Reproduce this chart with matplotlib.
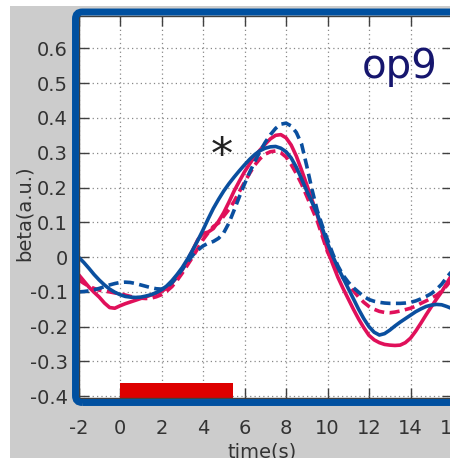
import numpy as np
import matplotlib.pyplot as plt
from matplotlib.patches import Rectangle, FancyBboxPatch

plt.rcParams['axes.unicode_minus'] = False

# time axis (s), values read every 0.25 s
t = np.arange(-2, 16.01, 0.25)

blue_solid = [0.000, -0.015, -0.032, -0.050, -0.066, -0.080, -0.092, -0.101,
              -0.108, -0.113, -0.115, -0.116, -0.115, -0.112, -0.108, -0.102,
              -0.094, -0.083, -0.068, -0.050, -0.030, -0.006, 0.020, 0.048,
              0.078, 0.110, 0.140, 0.166, 0.190, 0.211, 0.230, 0.248,
              0.265, 0.281, 0.295, 0.306, 0.313, 0.317, 0.318, 0.313,
              0.303, 0.285, 0.258, 0.225, 0.190, 0.158, 0.125, 0.083,
              0.040, 0.003, -0.030, -0.060, -0.090, -0.120, -0.150, -0.177,
              -0.200, -0.216, -0.224, -0.220, -0.210, -0.198, -0.187, -0.177,
              -0.167, -0.157, -0.149, -0.142, -0.138, -0.136, -0.137, -0.142,
              -0.148]
blue_dash = [-0.100, -0.099, -0.097, -0.094, -0.090, -0.085, -0.080, -0.076,
             -0.073, -0.072, -0.073, -0.076, -0.080, -0.084, -0.088, -0.091,
             -0.092, -0.086, -0.074, -0.056, -0.035, -0.014, 0.005, 0.020,
             0.032, 0.040, 0.045, 0.054, 0.070, 0.098, 0.135, 0.173,
             0.210, 0.244, 0.275, 0.304, 0.330, 0.352, 0.370, 0.382,
             0.385, 0.377, 0.358, 0.325, 0.262, 0.195, 0.135, 0.090,
             0.050, 0.010, -0.025, -0.052, -0.072, -0.088, -0.101, -0.113,
             -0.122, -0.127, -0.130, -0.132, -0.133, -0.133, -0.133, -0.132,
             -0.130, -0.126, -0.120, -0.113, -0.105, -0.093, -0.078, -0.058,
             -0.040]
red_solid = [-0.050, -0.068, -0.086, -0.101, -0.115, -0.132, -0.145, -0.147,
             -0.140, -0.134, -0.129, -0.124, -0.119, -0.114, -0.109, -0.104,
             -0.099, -0.089, -0.075, -0.057, -0.037, -0.010, 0.020, 0.050,
             0.068, 0.072, 0.082, 0.103, 0.128, 0.158, 0.190, 0.218,
             0.245, 0.268, 0.290, 0.308, 0.325, 0.340, 0.350, 0.352,
             0.343, 0.322, 0.290, 0.250, 0.208, 0.165, 0.122, 0.070,
             0.020, -0.020, -0.058, -0.090, -0.120, -0.150, -0.178, -0.203,
             -0.225, -0.238, -0.246, -0.251, -0.253, -0.254, -0.253, -0.246,
             -0.233, -0.213, -0.190, -0.166, -0.143, -0.121, -0.100, -0.075,
             -0.050]
red_dash = [-0.065, -0.075, -0.084, -0.090, -0.095, -0.098, -0.100, -0.103,
            -0.105, -0.109, -0.113, -0.116, -0.118, -0.119, -0.118, -0.114,
            -0.108, -0.098, -0.085, -0.067, -0.046, -0.023, 0.000, 0.025,
            0.050, 0.070, 0.088, 0.098, 0.118, 0.137, 0.160, 0.188,
            0.215, 0.241, 0.265, 0.283, 0.296, 0.303, 0.305, 0.300,
            0.288, 0.266, 0.240, 0.210, 0.175, 0.140, 0.105, 0.060,
            0.015, -0.015, -0.040, -0.060, -0.078, -0.097, -0.115, -0.130,
            -0.142, -0.150, -0.156, -0.159, -0.160, -0.158, -0.155, -0.151,
            -0.147, -0.141, -0.133, -0.126, -0.118, -0.110, -0.098, -0.082,
            -0.062]

stim = (0.0, 5.45)  # stimulus period
star_pos = (4.92, 0.29)
xticks = list(range(-2, 17, 2))
yticks = [-0.4, -0.3, -0.2, -0.1, 0, 0.1, 0.2, 0.3, 0.4, 0.5, 0.6]
ylabels = ['-0.4', '-0.3', '-0.2', '-0.1', '0', '0.1', '0.2', '0.3', '0.4', '0.5', '0.6']

BLUE = '#0a4f9f'
RED = '#e0105a'

W, H = 450, 458
fig = plt.figure(figsize=(4.5, 4.58), dpi=100)
fig.patch.set_facecolor('white')
fig.add_artist(Rectangle((10 / W, 0), 1, 1 - 6 / H, transform=fig.transFigure,
                         facecolor='#cccccc', edgecolor='none', zorder=-10))

ax = fig.add_axes([78.5 / W, 1 - 398 / H, (452 - 78.5) / W, (398 - 16) / H])
ax.set_facecolor('white')
ax.set_xlim(-2, 16)
ax.set_ylim(-0.405, 0.693)

ax.grid(True, linestyle=(0, (1, 2.5)), color='#888888', linewidth=0.9)
ax.set_axisbelow(True)

dash = (0, (2.8, 1.5))
kw = dict(lw=2.6, solid_joinstyle='round', dash_joinstyle='round')
ax.plot(t, red_dash, color=RED, ls=dash, **kw)
ax.plot(t, red_solid, color=RED, **kw)
ax.plot(t, blue_dash, color=BLUE, ls=dash, **kw)
ax.plot(t, blue_solid, color=BLUE, **kw)

ax.axvspan(stim[0], stim[1], ymin=0, ymax=(0.405 - 0.362) / 1.098, color='#dd0000', lw=0)

ax.text(star_pos[0], star_pos[1], '*', fontsize=32, ha='center', va='center', color='#222222')
ax.text(13.5, 0.514, 'op9', fontsize=29, color='#16166e', ha='center', va='baseline')

ax.set_xticks(xticks)
ax.set_yticks(yticks)
ax.set_yticklabels(ylabels)
ax.tick_params(direction='in', top=True, right=True, length=7, width=1,
               color='#404040', labelsize=14, labelcolor='#333333')
ax.tick_params(axis='x', pad=15)
ax.tick_params(axis='y', pad=7.5)
for s in ax.spines.values():
    s.set_color('#404040')
    s.set_linewidth(1)

ax.set_xlabel('time(s)', fontsize=14, color='#333333')
ax.xaxis.set_label_coords((262 - 78.5) / 373.5, (398 - 452) / 382)
ax.xaxis.label.set_va('center')
ax.set_ylabel('beta(a.u.)', fontsize=14, color='#333333')
ax.yaxis.set_label_coords((24 - 78.5) / 373.5, (398 - 213) / 382)
ax.yaxis.label.set_va('center')

# thick rounded frame around the plot
fig.add_artist(FancyBboxPatch((75.5 / W, 1 - 402.5 / H), 1.1, (402.5 - 12) / H,
                              boxstyle='round,pad=0,rounding_size=0.015',
                              transform=fig.transFigure, facecolor='none',
                              edgecolor='#0050a0', linewidth=5, zorder=5))

fig.savefig('out.png', dpi=100)
